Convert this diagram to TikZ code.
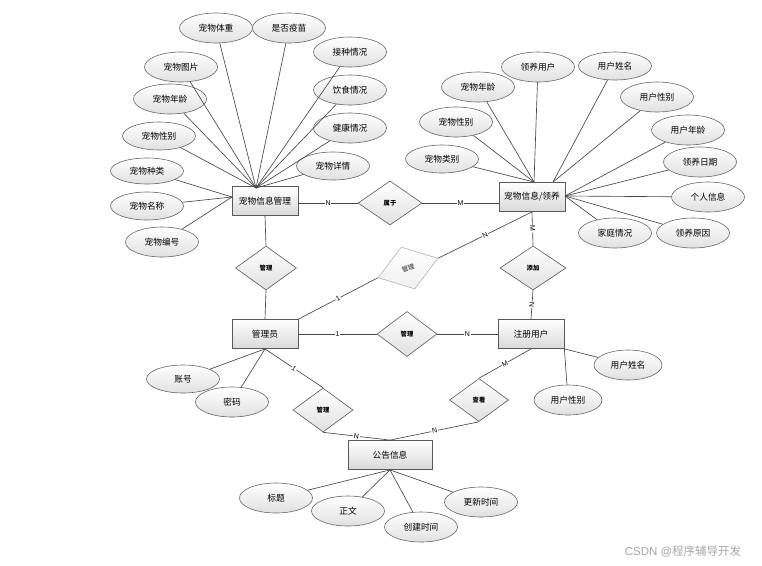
\documentclass[tikz,border=0pt]{standalone}
\usepackage{fontspec}
\setmainfont{Liberation Sans}
\newfontfamily\cjk{Noto Sans CJK SC}
\usetikzlibrary{shapes,positioning,calc}

\begin{document}
\begin{tikzpicture}[
    x=1pt, y=-1pt,
    entity/.style={rectangle, draw=black!65, line width=0.8pt, top color=white, bottom color=black!15, minimum width=66pt, minimum height=29pt, font=\cjk\fontsize{8.7}{10}\selectfont},
    attr/.style={ellipse, draw=black!60, line width=0.6pt, top color=white, bottom color=black!12, minimum width=73pt, minimum height=30pt, inner sep=0pt, font=\cjk\fontsize{8.7}{10}\selectfont},
    rel/.style={diamond, draw=black!65, line width=0.6pt, top color=white, bottom color=black!12, minimum width=61pt, minimum height=44pt, inner sep=0pt, font=\cjk\fontsize{6.3}{7}\selectfont\bfseries},
    faded/.style={draw=black!30, bottom color=black!6, text=black!55},
    conn/.style={draw=black!72, line width=0.65pt},
    card/.style={fill=white, inner sep=0.8pt, font=\fontsize{7}{8}\selectfont}
]
\useasboundingbox (0,0) rectangle (762,565);

% Entities
\node[entity] (pet) at (265,201) {宠物信息管理};
\node[entity] (adopt) at (532,197) {宠物信息/领养};
\node[entity] (admin) at (265,334) {管理员};
\node[entity] (user) at (531,334) {注册用户};
\node[entity, minimum width=84pt] (notice) at (390,455) {公告信息};

% Relations
\node[rel, minimum width=64pt] (belong) at (390,203) {属于};
\node[rel] (petmgr) at (266,268) {管理};
\node[rel, faded, rotate=18, minimum width=63pt, minimum height=44pt] (adoptmgr) at (408,268) {管理};
\node[rel, minimum width=66pt] (addrel) at (533,268) {添加};
\node[rel, minimum width=60pt, minimum height=45pt] (usermgr) at (407,334) {管理};
\node[rel, minimum width=60pt] (noticemgr) at (323,410) {管理};
\node[rel, minimum width=59pt, minimum height=43pt] (viewrel) at (479,400) {查看};

% Attributes of pet info
\coordinate (pethub) at (256,188);
\coordinate (petside) at (232,197);
\node[attr] (weight) at (216,28) {宠物体重};
\node[attr] (vaccine) at (289,28) {是否疫苗};
\node[attr] (inoc) at (350,52) {接种情况};
\node[attr] (diet) at (350,90) {饮食情况};
\node[attr] (health) at (350,128) {健康情况};
\node[attr, minimum height=28pt] (detail) at (333,166) {宠物详情};
\node[attr] (photo) at (181,67) {宠物图片};
\node[attr] (age) at (170,99) {宠物年龄};
\node[attr, minimum height=28pt] (sex) at (159,136) {宠物性别};
\node[attr, minimum height=26pt] (kind) at (147,171) {宠物种类};
\node[attr, minimum height=28pt] (pname) at (147,206) {宠物名称};
\node[attr] (pid) at (162,242) {宠物编号};

% Attributes of adoption
\coordinate (adhubA) at (534,182);
\coordinate (adhubB) at (553,182);
\coordinate (adhubC) at (565,196);
\node[attr] (aage) at (478,87) {宠物年龄};
\node[attr] (auser) at (538,67) {领养用户};
\node[attr, minimum height=28pt] (uname) at (615,66) {用户姓名};
\node[attr] (usex) at (657,97) {用户性别};
\node[attr] (uage) at (688,130) {用户年龄};
\node[attr] (adate) at (700,162) {领养日期};
\node[attr] (pinfo) at (708,197) {个人信息};
\node[attr] (reason) at (693,233) {领养原因};
\node[attr] (family) at (615,233) {家庭情况};
\node[attr] (asex) at (456,122) {宠物性别};
\node[attr, minimum height=28pt] (acat) at (442,159) {宠物类别};

% Attributes of admin, user, notice
\node[attr, minimum height=28pt] (acct) at (183,379) {账号};
\node[attr] (pwd) at (232,402) {密码};
\node[attr, minimum width=68pt] (rname) at (628,365) {用户姓名};
\node[attr, minimum width=68pt] (rsex) at (568,400) {用户性别};
\node[attr] (title) at (276,498) {标题};
\node[attr] (body) at (348,511) {正文};
\node[attr] (ctime) at (421,527) {创建时间};
\node[attr] (utime) at (481,502) {更新时间};

% Attribute lines
\foreach \a in {weight,vaccine,inoc,diet,health,detail,photo,age,sex}
    \draw[conn] (\a) -- (pethub);
\foreach \a in {kind,pname,pid}
    \draw[conn] (\a) -- (petside);
\foreach \a in {aage,auser,asex,acat}
    \draw[conn] (\a) -- (adhubA);
\foreach \a in {uname,usex}
    \draw[conn] (\a) -- (adhubB);
\foreach \a in {uage,adate,pinfo,reason,family}
    \draw[conn] (\a) -- (adhubC);
\foreach \a in {acct,pwd}
    \draw[conn] (\a) -- (admin.south);
\foreach \a in {rname,rsex}
    \draw[conn] (\a) -- (user.south east);
\foreach \a in {title,body,ctime,utime}
    \draw[conn] (\a) -- (notice.south);

% Relation lines
\draw[conn] (pet.east |- belong) -- (belong.west) node[midway, card] {N};
\draw[conn] (belong.east) -- (belong.east -| adopt.west) node[midway, card] {M};
\draw[conn] (pet.south) -- (petmgr.north);
\draw[conn] (petmgr.south) -- (admin.north);
\draw[conn] (admin.north east) -- (adoptmgr.west) node[midway, card, sloped] {1};
\draw[conn] (adoptmgr.east) -- (adopt.south) node[midway, card, sloped] {N};
\draw[conn] (adopt.south) -- (addrel.north) node[midway, card, sloped] {M};
\draw[conn] (addrel.south) -- (user.north) node[midway, card, sloped] {N};
\draw[conn] (admin.east) -- (usermgr.west) node[midway, card] {1};
\draw[conn] (usermgr.east) -- (user.west) node[midway, card] {N};
\draw[conn] (admin.south) -- (noticemgr.north) node[midway, card, sloped] {1};
\draw[conn] (noticemgr.south) -- (notice.north) node[midway, card, sloped] {N};
\draw[conn] (user.south) -- (viewrel.north) node[midway, card, sloped] {M};
\draw[conn] (viewrel.south) -- (notice.north) node[midway, card, sloped] {N};

% Watermark
\node[text=black!35, font=\fontsize{11.5}{13}\selectfont] (csdn) at (683,551) {CSDN @{\cjk 程序辅导开发}};

\end{tikzpicture}
\end{document}
